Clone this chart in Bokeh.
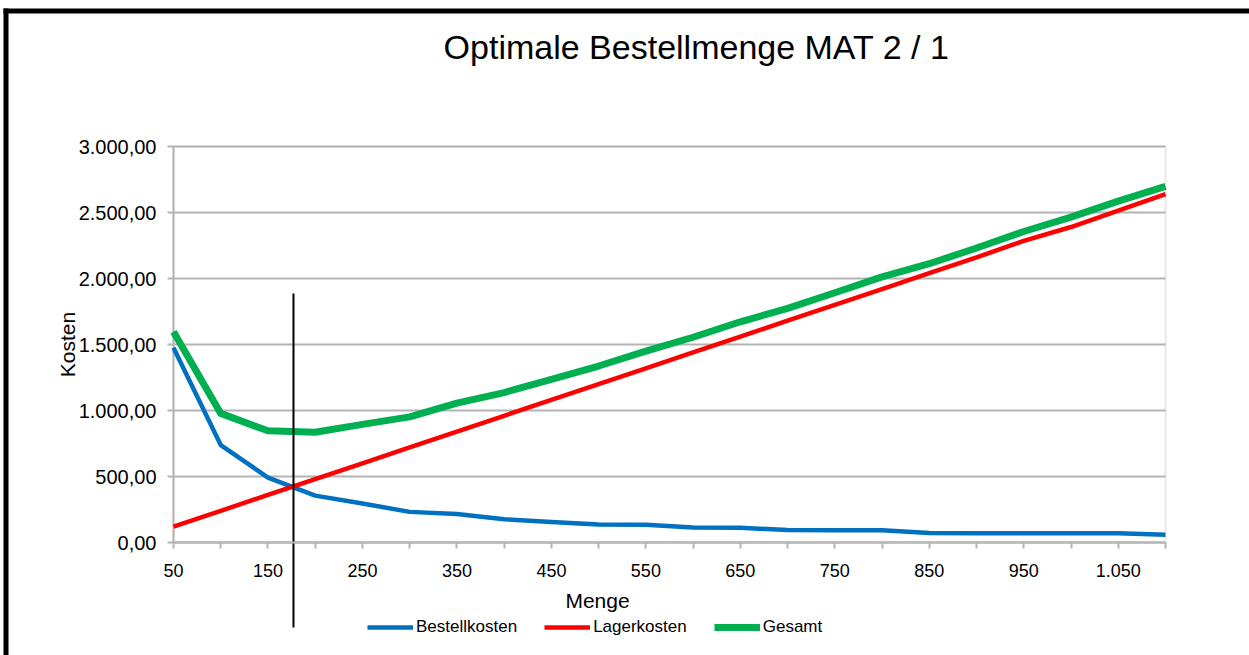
from bokeh.plotting import figure
from bokeh.models import (Range1d, FixedTicker, Legend, LegendItem, Label,
                          BoxAnnotation, LinearAxis)
from bokeh.embed import file_html
from bokeh.resources import INLINE

# ---- data ----
menge = [50, 100, 150, 200, 250, 300, 350, 400, 450, 500, 550,
         600, 650, 700, 750, 800, 850, 900, 950, 1000, 1050, 1100]
bestellkosten = [1476, 738, 492, 355, 295, 232, 216, 176, 156, 137, 135,
                 114, 112, 94, 92, 92, 72, 71, 71, 71, 71, 58]
lagerkosten = [120, 240, 360, 480, 600, 720, 840, 960, 1080, 1200, 1320,
               1440, 1560, 1680, 1800, 1920, 2040, 2160, 2285, 2390, 2515, 2640]
gesamt = [1596, 978, 846, 835, 895, 952, 1056, 1136, 1236, 1337, 1450,
          1555, 1672, 1774, 1892, 2012, 2112, 2231, 2356, 2465, 2586, 2698]
series_names = ["Bestellkosten", "Lagerkosten", "Gesamt"]

x_ticks = menge
x_tick_labels = ["50", "", "150", "", "250", "", "350", "", "450", "", "550",
                 "", "650", "", "750", "", "850", "", "950", "", "1.050", ""]
y_ticks = [0, 500, 1000, 1500, 2000, 2500, 3000]
y_tick_labels = ["0,00", "500,00", "1.000,00", "1.500,00", "2.000,00", "2.500,00", "3.000,00"]

opt_menge = 177          # optimale Bestellmenge (vertical marker)
opt_line_top = 1886
opt_line_bottom = -644

title_text = "Optimale Bestellmenge MAT 2 / 1"
x_title = "Menge"
y_title = "Kosten"

# ---- layout (pixels) ----
W, H = 1249, 655
PL, PR, PT, PB = 173, 1165, 146, 542      # plot area edges on the canvas
X0, X1 = 50, 1100
Y0, Y1 = 0, 3000

FONT = "Liberation Sans"
GRID = "#B4B4B4"

kx = (PR - PL) / (X1 - X0)
ky = (PB - PT) / (Y1 - Y0)
x_range = Range1d(X0 - PL / kx, X1 + (W - PR) / kx)
y_range = Range1d(Y0 - (H - PB) / ky, Y1 + PT / ky)

p = figure(width=W, height=H, output_backend="svg", toolbar_location=None,
           x_range=x_range, y_range=y_range, min_border=0, title=None,
           x_axis_location=None, y_axis_location=None)
p.background_fill_color = "white"
p.border_fill_color = "white"
p.outline_line_color = None
p.grid.visible = False

# plot-area frame (gray)
p.add_layout(BoxAnnotation(left=X0, right=X1, bottom=Y0, top=Y1,
                           fill_alpha=0, line_color=GRID, line_width=2,
                           level="underlay"))

# y axis (ticks extended inward act as horizontal gridlines)
ya = LinearAxis(fixed_location=X0, bounds=(Y0, Y1),
                ticker=FixedTicker(ticks=y_ticks), level="underlay")
ya.major_label_overrides = dict(zip(y_ticks, y_tick_labels))
ya.axis_line_color = GRID
ya.axis_line_width = 2
ya.major_tick_line_color = GRID
ya.major_tick_line_width = 2
ya.major_tick_in = PR - PL
ya.major_tick_out = 6
ya.minor_tick_line_color = None
ya.major_label_text_font = FONT
ya.major_label_text_font_size = "20px"
ya.major_label_text_color = "black"
ya.major_label_standoff = 11
ya.axis_label = y_title
ya.axis_label_text_font = FONT
ya.axis_label_text_font_size = "21px"
ya.axis_label_text_font_style = "normal"
ya.axis_label_text_color = "black"
ya.axis_label_standoff = -3
p.add_layout(ya, "left")

# x axis
xa = LinearAxis(fixed_location=Y0, bounds=(X0, X1),
                ticker=FixedTicker(ticks=x_ticks))
xa.major_label_overrides = dict(zip(x_ticks, x_tick_labels))
xa.axis_line_color = GRID
xa.axis_line_width = 2
xa.major_tick_line_color = GRID
xa.major_tick_line_width = 2
xa.major_tick_in = 0
xa.major_tick_out = 6
xa.minor_tick_line_color = None
xa.major_label_text_font = FONT
xa.major_label_text_font_size = "18px"
xa.major_label_text_color = "black"
xa.major_label_standoff = 15
p.add_layout(xa, "below")

# x axis title (Excel centres it on the chart area, not the plot area)
p.add_layout(Label(x=597, y=H - 600, x_units="screen", y_units="screen", text=x_title,
                   text_align="center", text_baseline="alphabetic",
                   text_font=FONT, text_font_size="21px", text_color="black"))

# series
r_b = p.line(menge, bestellkosten, line_color="#0070C0", line_width=4.5, line_join="round")
r_l = p.line(menge, lagerkosten, line_color="#FF0000", line_width=4.5, line_join="round")
r_g = p.line(menge, gesamt, line_color="#00B050", line_width=7, line_join="round")

# optimal quantity marker
p.segment(x0=[opt_menge], y0=[opt_line_top], x1=[opt_menge], y1=[opt_line_bottom],
          line_color="black", line_width=2)

# title
p.add_layout(Label(x=696, y=H - 46, x_units="screen", y_units="screen", text=title_text,
                   text_align="center", text_baseline="alphabetic",
                   text_font=FONT, text_font_size="34px", text_color="black"))

# chart border (top and left, black)
p.add_layout(BoxAnnotation(left=3, right=W + 10, bottom=H - 13, top=H - 8,
                           left_units="screen", right_units="screen",
                           bottom_units="screen", top_units="screen",
                           fill_color="black", fill_alpha=1, line_color=None))
p.add_layout(BoxAnnotation(left=3, right=8, bottom=-10, top=H - 8,
                           left_units="screen", right_units="screen",
                           bottom_units="screen", top_units="screen",
                           fill_color="black", fill_alpha=1, line_color=None))

legend = Legend(items=[LegendItem(label=series_names[0], renderers=[r_b]),
                       LegendItem(label=series_names[1], renderers=[r_l]),
                       LegendItem(label=series_names[2], renderers=[r_g])],
                orientation="horizontal", location=(367, 18),
                label_text_font=FONT, label_text_font_size="17px",
                label_text_color="black",
                glyph_width=46, glyph_height=20, spacing=27, label_standoff=3,
                padding=0, margin=0, border_line_color=None,
                background_fill_alpha=0)
p.add_layout(legend, "center")

open("out.html", "w").write(file_html(p, INLINE))
